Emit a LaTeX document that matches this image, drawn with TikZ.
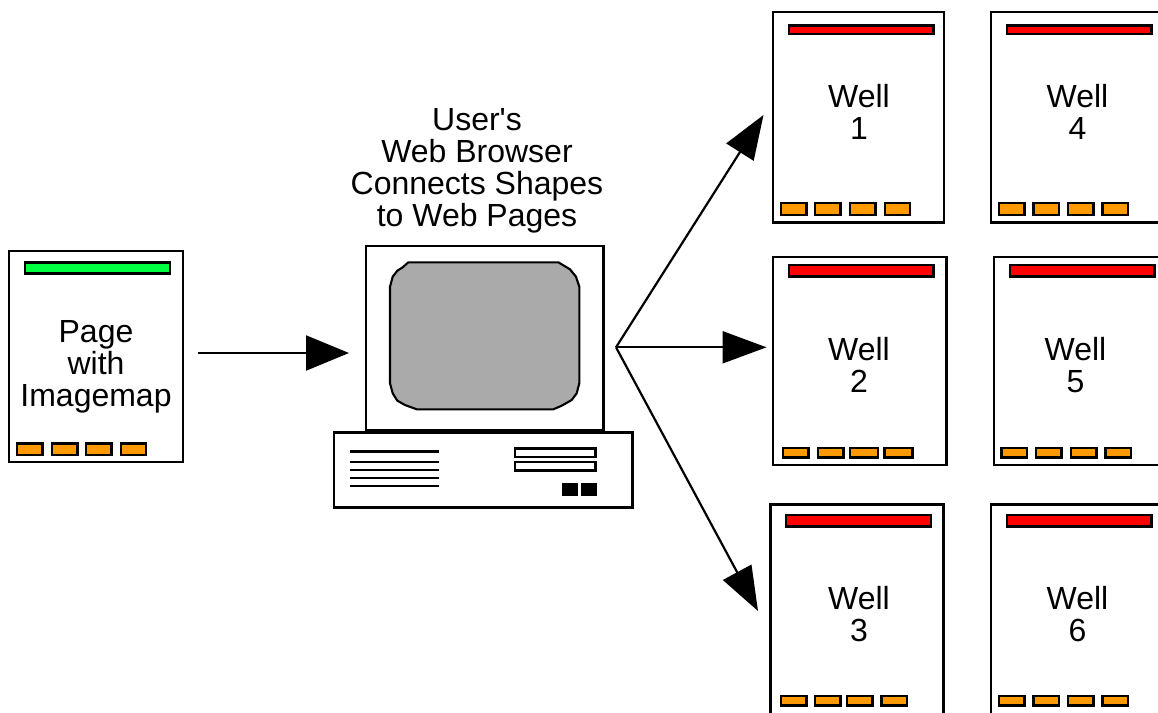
\documentclass[tikz,border=0pt]{standalone}
\usepackage{fontspec}
\newfontfamily\plainsans{Liberation Sans}
\usetikzlibrary{arrows.meta}
\definecolor{barred}{HTML}{FF0000}
\definecolor{bargreen}{HTML}{00FF40}
\definecolor{barorange}{HTML}{FF9900}
\definecolor{screengrey}{HTML}{AAAAAA}
\tikzset{
  outline/.style={draw=black,line width=2.1pt,fill=white,inner sep=0pt,outer sep=0pt},
  pagebox/.style={outline},
  topbar/.style={outline,line width=2.5pt,fill=barred},
  greenbar/.style={outline,line width=2.5pt,fill=bargreen},
  tab/.style={outline,line width=2.3pt,fill=barorange},
  slot/.style={outline},
  led/.style={draw=black,line width=1pt,fill=black,inner sep=0pt,outer sep=0pt},
  label/.style={align=center,inner sep=0pt,font=\plainsans\fontsize{32}{32}\selectfont},
  conn/.style={line width=2.2pt,-{Triangle[length=44pt,width=32pt]}},
  vent/.style={line width=2.1pt}
}
\newcommand{\bx}[6]{\node[#2,minimum width={(#5-#3)*1pt},minimum height={(#6-#4)*1pt}] (#1) at ({(#3+#5)/2},{(#4+#6)/2}) {};}
\newcommand{\tabs}[6]{%
  \bx{#1a}{tab}{#4}{#2}{#4+25.5}{#3}
  \bx{#1b}{tab}{#5}{#2}{#5+25.5}{#3}
  \bx{#1c}{tab}{#6}{#2}{#6+25.5}{#3}
}
\begin{document}
\begin{tikzpicture}[x=1pt,y=-1pt]
\useasboundingbox (0,0) rectangle (1158,712);
\clip (0,0) rectangle (1158,712);
\fill[white] (0,0) rectangle (1158,712);

% page with imagemap
\bx{page}{pagebox}{9}{251}{183}{462}
\bx{pagebar}{greenbar}{25}{262.5}{170}{273.5}
\tabs{pt}{443.5}{455}{17}{52}{86}
\bx{ptd}{tab}{121}{443.5}{146}{455}
\node[label] (pagetext) at (96,366.5) {Page\\with\\Imagemap};

% computer
\bx{monitor}{outline}{366}{246}{603.5}{430}
\filldraw[draw=black,line width=2.1pt,fill=screengrey]
  (408.3,262.3) -- (558.3,262.3) -- (570,269.3) -- (576,276.7) -- (579.3,286.7)
  -- (579.3,383.3) -- (576.7,393.3) -- (571.7,400) -- (561.7,405.7) -- (553.3,409.3)
  -- (416.7,409.3) -- (405,405) -- (397.3,400.7) -- (392.7,393.3) -- (390,383.3)
  -- (390,286.7) -- (392.7,276.7) -- (397.3,270.7) -- (402.7,267.3) -- cycle;
\bx{base}{outline}{334}{432.5}{632.5}{507.5}
\coordinate (v1a) at (349.5,451.5); \coordinate (v1b) at (439,451.5);
\coordinate (v2a) at (349.5,461.8); \coordinate (v2b) at (439,461.8);
\coordinate (v3a) at (349.5,470);   \coordinate (v3b) at (439,470);
\coordinate (v4a) at (349.5,478);   \coordinate (v4b) at (439,478);
\coordinate (v5a) at (349.5,486.3); \coordinate (v5b) at (439,486.3);
\foreach \i in {1,...,5} {\draw[vent] (v\i a) -- (v\i b);}
\bx{slota}{slot}{515}{448.5}{595.5}{457}
\bx{slotb}{slot}{515}{462}{595.5}{470.5}
\bx{leda}{led}{562.5}{483}{577}{495}
\bx{ledb}{led}{581}{483}{596}{495}
\node[label] (browsertext) at (477,170.5) {User's\\Web Browser\\Connects Shapes\\to Web Pages};

% wells
\bx{well1}{pagebox}{773}{12}{944}{222.5}
\bx{bar1}{topbar}{789}{25.5}{933.5}{34}
\tabs{t1}{203}{215}{781}{815}{850}
\bx{t1d}{tab}{885}{203}{910}{215}
\node[label] (text1) at (859,112) {Well\\1};

\bx{well4}{pagebox}{991}{12}{1162}{222.5}
\bx{bar4}{topbar}{1007}{25.5}{1151.5}{34}
\tabs{t4}{203}{215}{999}{1033.5}{1068}
\bx{t4d}{tab}{1102.5}{203}{1128}{215}
\node[label] (text4) at (1077.5,112) {Well\\4};

\bx{well2}{pagebox}{773}{257}{946.5}{465}
\bx{bar2}{topbar}{789}{265}{933.5}{276.5}
\bx{t2a}{tab}{783}{448}{808.5}{457.5}
\bx{t2b}{tab}{818}{448}{843.5}{457.5}
\bx{t2c}{tab}{850}{448}{878}{457.5}
\bx{t2d}{tab}{884.5}{448}{912.5}{457.5}
\node[label] (text2) at (859,365) {Well\\2};

\bx{well5}{pagebox}{994}{257}{1165}{465}
\bx{bar5}{topbar}{1010}{265}{1154.5}{276.5}
\tabs{t5}{448}{457.5}{1001.5}{1036}{1071}
\bx{t5d}{tab}{1105.5}{448}{1131}{457.5}
\node[label] (text5) at (1075.5,365) {Well\\5};

\bx{well3}{pagebox}{770.5}{504.5}{943.5}{730}
\bx{bar3}{topbar}{786}{515}{931}{526.5}
\tabs{t3}{696}{705.5}{781}{815}{847}
\bx{t3d}{tab}{881.5}{696}{907}{705.5}
\node[label] (text3) at (859,614) {Well\\3};

\bx{well6}{pagebox}{991}{504.5}{1162}{730}
\bx{bar6}{topbar}{1007}{515}{1151.5}{526.5}
\tabs{t6}{696}{705.5}{999}{1033.5}{1068}
\bx{t6d}{tab}{1102.5}{696}{1128}{705.5}
\node[label] (text6) at (1077.5,614) {Well\\6};

% connectors
\coordinate (pagefrom) at (198,353);
\coordinate (montip) at (349,353);
\coordinate (hub) at (616,347.3);
\coordinate (tip1) at (763.5,115);
\coordinate (tip2) at (766.5,347.3);
\coordinate (tip3) at (758,611);
\draw[line width=2.2pt,-{Triangle[length=43pt,width=35pt]}] (pagefrom) -- (montip);
\draw[conn] (hub) -- (tip1);
\draw[conn] (hub) -- (tip2);
\draw[conn] (hub) -- (tip3);
\end{tikzpicture}
\end{document}
